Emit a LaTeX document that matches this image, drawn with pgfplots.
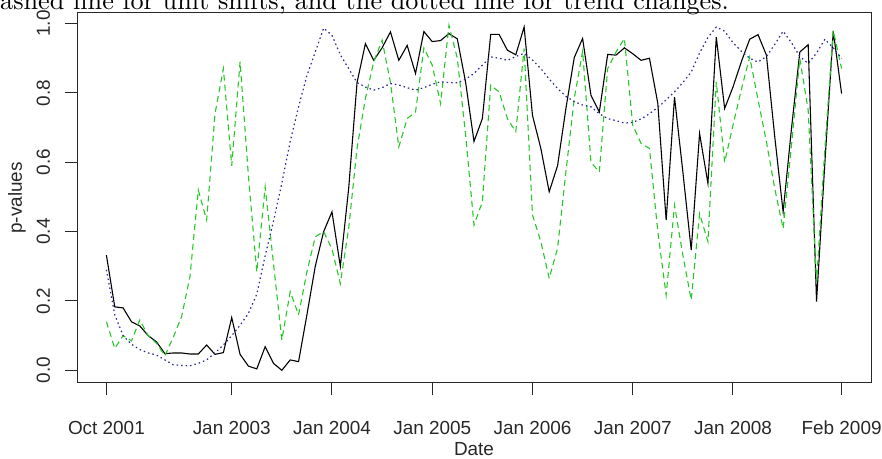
\documentclass[border=0pt]{standalone}
\usepackage{fontspec}
\usepackage{pgfplots}
\pgfplotsset{compat=1.18}
\newfontfamily\arial{Liberation Sans}
\newfontfamily\capfont{lmroman10-regular.otf}
\definecolor{rgreen}{RGB}{40,200,40}
\definecolor{rblue}{RGB}{40,40,150}
\definecolor{axgray}{RGB}{40,40,40}

\pgfplotstableread{
m v
0 0.332
1 0.183
2 0.180
3 0.140
4 0.128
5 0.100
6 0.082
7 0.048
8 0.050
9 0.050
10 0.047
11 0.047
12 0.073
13 0.046
14 0.051
15 0.152
16 0.046
17 0.012
18 0.004
19 0.068
20 0.020
21 0.000
22 0.030
23 0.025
24 0.160
25 0.300
26 0.400
27 0.457
28 0.300
29 0.525
30 0.830
31 0.942
32 0.894
33 0.930
34 0.976
35 0.894
36 0.937
37 0.856
38 0.977
39 0.948
40 0.951
41 0.971
42 0.956
43 0.830
44 0.660
45 0.726
46 0.969
47 0.969
48 0.923
49 0.910
50 0.990
51 0.735
52 0.640
53 0.515
54 0.590
55 0.755
56 0.902
57 0.957
58 0.793
59 0.745
60 0.911
61 0.909
62 0.930
63 0.913
64 0.894
65 0.900
66 0.770
67 0.433
68 0.788
69 0.572
70 0.347
71 0.683
72 0.539
73 0.961
74 0.755
75 0.817
76 0.890
77 0.955
78 0.968
79 0.909
80 0.673
81 0.457
82 0.697
83 0.918
84 0.939
85 0.198
86 0.600
87 0.978
88 0.798
}\blackdata

\pgfplotstableread{
m v
0 0.140
1 0.063
2 0.100
3 0.085
4 0.145
5 0.100
6 0.078
7 0.042
8 0.095
9 0.155
10 0.270
11 0.520
12 0.433
13 0.740
14 0.870
15 0.590
16 0.890
17 0.560
18 0.284
19 0.529
20 0.308
21 0.087
22 0.227
23 0.160
24 0.284
25 0.385
26 0.400
27 0.350
28 0.250
29 0.410
30 0.640
31 0.784
32 0.890
33 0.952
34 0.830
35 0.644
36 0.726
37 0.745
38 0.930
39 0.880
40 0.769
41 0.995
42 0.900
43 0.678
44 0.419
45 0.486
46 0.822
47 0.803
48 0.726
49 0.688
50 0.928
51 0.448
52 0.371
53 0.265
54 0.352
55 0.572
56 0.784
57 0.920
58 0.600
59 0.572
60 0.870
61 0.918
62 0.957
63 0.707
64 0.654
65 0.640
66 0.400
67 0.217
68 0.476
69 0.332
70 0.203
71 0.452
72 0.371
73 0.832
74 0.600
75 0.707
76 0.810
77 0.904
78 0.780
79 0.659
80 0.524
81 0.409
82 0.649
83 0.899
84 0.750
85 0.255
86 0.640
87 0.980
88 0.870
}\greendata

\pgfplotstableread{
m v
0 0.290
1 0.160
2 0.100
3 0.075
4 0.060
5 0.050
6 0.044
7 0.030
8 0.016
9 0.014
10 0.013
11 0.020
12 0.030
13 0.050
14 0.073
15 0.100
16 0.130
17 0.164
18 0.220
19 0.330
20 0.430
21 0.540
22 0.660
23 0.760
24 0.850
25 0.918
26 0.987
27 0.966
28 0.910
29 0.870
30 0.830
31 0.817
32 0.808
33 0.815
34 0.827
35 0.823
36 0.815
37 0.808
38 0.815
39 0.825
40 0.832
41 0.830
42 0.829
43 0.840
44 0.856
45 0.880
46 0.904
47 0.900
48 0.894
49 0.905
50 0.914
51 0.895
52 0.870
53 0.840
54 0.813
55 0.790
56 0.775
57 0.765
58 0.760
59 0.740
60 0.726
61 0.720
62 0.713
63 0.715
64 0.725
65 0.740
66 0.758
67 0.780
68 0.803
69 0.830
70 0.860
71 0.915
72 0.960
73 0.990
74 0.978
75 0.945
76 0.920
77 0.900
78 0.889
79 0.905
80 0.940
81 0.978
82 0.945
83 0.905
84 0.885
85 0.915
86 0.955
87 0.930
88 0.899
}\bluedata

\begin{document}
\begin{tikzpicture}[x=1bp,y=1bp]
\begin{axis}[
  at={(77bp,76bp)}, anchor=south west,
  scale only axis, width=794bp, height=370bp,
  xmin=-3.52, xmax=91.52, ymin=-0.0366, ymax=1.0305,
  axis line style={line width=1bp, axgray},
  xtick={0,15,27,39,51,63,75,88},
  xticklabels={Oct 2001,Jan 2003,Jan 2004,Jan 2005,Jan 2006,Jan 2007,Jan 2008,Feb 2009},
  ytick={0,0.2,0.4,0.6,0.8,1.0},
  yticklabels={0.0,0.2,0.4,0.6,0.8,1.0},
  xtick pos=left, ytick pos=left,
  tick align=outside, major tick length=12bp,
  tick style={line width=1bp, axgray},
  ticklabel style={font=\arial\fontsize{19}{22}\selectfont, text=axgray},
  xticklabel style={anchor=base, inner sep=0pt},
  yticklabel style={rotate=90, anchor=base, inner sep=0pt},
  xticklabel shift=39bp,
  yticklabel shift=15bp,
  xlabel={Date}, ylabel={p-values},
  xlabel style={at={(axis description cs:0.5,-0.197)}, anchor=base, inner sep=0pt, font=\arial\fontsize{19}{22}\selectfont, text=axgray},
  ylabel style={at={(axis description cs:-0.0693,0.5)}, anchor=base, inner sep=0pt, font=\arial\fontsize{19}{22}\selectfont, text=axgray},
]
\addplot[black, line width=1.1bp] table[x=m, y=v] {\blackdata};
\addplot[rgreen, line width=1.1bp, dash pattern=on 6bp off 4bp] table[x=m, y=v] {\greendata};
\addplot[rblue, line width=1.2bp, dash pattern=on 1.5bp off 3bp] table[x=m, y=v] {\bluedata};
\end{axis}
\node[anchor=base west, inner sep=0pt] at (0bp,449.5bp) {\capfont\fontsize{26.3}{30}\selectfont ashed line for unit shifts, and the dotted line for trend changes.};
\pgfresetboundingbox
\path[use as bounding box] (0,0) rectangle (882bp,459bp);
\end{tikzpicture}
\end{document}
